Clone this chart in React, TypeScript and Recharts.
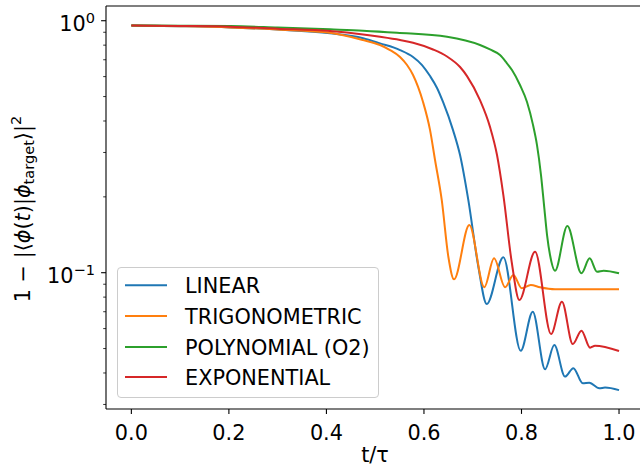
import React from 'react';
import { LineChart, Line, XAxis, YAxis, Legend, ReferenceLine } from 'recharts';

const FONT = 'DejaVu Sans';
const FS = 20.8;

// LINEAR
const linearT = [0, 0.1, 0.2024, 0.3, 0.4074, 0.4751, 0.5099, 0.5509, 0.5776, 0.5961, 0.6125, 0.6268, 0.6391, 0.6596, 0.674, 0.691, 0.7115, 0.7287, 0.7628, 0.7984, 0.8231, 0.8483, 0.8673, 0.8893, 0.9063, 0.9256, 0.9391, 0.9596, 0.9713, 1.0];
const linearV = [0.957, 0.951, 0.941, 0.922, 0.891, 0.852, 0.813, 0.765, 0.718, 0.667, 0.603, 0.541, 0.476, 0.368, 0.293, 0.194, 0.1056, 0.0751, 0.1151, 0.049, 0.07, 0.0414, 0.0516, 0.0387, 0.0418, 0.0364, 0.0366, 0.0348, 0.035, 0.0342];

// TRIGONOMETRIC
const trigT = [0, 0.1, 0.2024, 0.3, 0.4074, 0.4751, 0.5099, 0.5304, 0.5509, 0.5653, 0.5776, 0.5879, 0.5981, 0.6125, 0.6227, 0.6365, 0.65, 0.6617, 0.693, 0.7238, 0.7437, 0.7663, 0.7833, 0.8005, 0.819, 0.838, 0.8688, 1.0];
const trigV = [0.957, 0.951, 0.941, 0.923, 0.896, 0.838, 0.801, 0.765, 0.718, 0.667, 0.609, 0.546, 0.476, 0.368, 0.28, 0.194, 0.1157, 0.0941, 0.1546, 0.0875, 0.114, 0.0875, 0.0979, 0.0867, 0.0894, 0.0875, 0.0859, 0.0859];

// POLYNOMIAL (O2)
const polyT = [0, 0.1, 0.2024, 0.3, 0.4074, 0.4751, 0.5448, 0.6473, 0.7149, 0.7354, 0.7559, 0.7682, 0.7805, 0.7969, 0.8113, 0.8236, 0.8318, 0.84, 0.8462, 0.8524, 0.8585, 0.8688, 0.894, 0.9229, 0.9398, 0.9549, 0.9685, 1.0];
const polyV = [0.957, 0.956, 0.953, 0.94, 0.924, 0.913, 0.896, 0.864, 0.801, 0.769, 0.731, 0.686, 0.637, 0.556, 0.476, 0.386, 0.321, 0.244, 0.1856, 0.1411, 0.1175, 0.1018, 0.1532, 0.0995, 0.114, 0.1009, 0.1018, 0.0995];

// EXPONENTIAL
const expT = [0, 0.1, 0.2024, 0.3, 0.4074, 0.4751, 0.5099, 0.5509, 0.5776, 0.6186, 0.6473, 0.674, 0.6883, 0.7149, 0.7354, 0.7498, 0.7628, 0.7799, 0.7956, 0.8278, 0.8606, 0.8829, 0.9051, 0.9229, 0.9406, 0.9508, 1.0];
const expV = [0.957, 0.953, 0.947, 0.93, 0.91, 0.882, 0.863, 0.838, 0.818, 0.769, 0.721, 0.655, 0.603, 0.484, 0.379, 0.293, 0.2033, 0.1103, 0.0779, 0.1212, 0.0571, 0.0767, 0.0521, 0.0589, 0.0504, 0.0513, 0.0489];

const seriesNames = ['LINEAR', 'TRIGONOMETRIC', 'POLYNOMIAL (O2)', 'EXPONENTIAL'];
const seriesColors = ['#1f77b4', '#ff7f0e', '#2ca02c', '#d62728'];

const xTicks = [0, 0.2, 0.4, 0.6, 0.8, 1.0];
const yMajorTicks = [0.1, 1];
const yMinorTicks = [0.03, 0.04, 0.05, 0.06, 0.07, 0.08, 0.09, 0.2, 0.3, 0.4, 0.5, 0.6, 0.7, 0.8, 0.9];
const yTicks = [...yMinorTicks, ...yMajorTicks].sort((a, b) => a - b);

const xDomain: [number, number] = [-0.052, 1.043];
const yDomain: [number, number] = [0.02878, 1.144];

const zip = (t: number[], v: number[]) => t.map((x, i) => ({ t: x, v: v[i] }));
const seriesData = [zip(linearT, linearV), zip(trigT, trigV), zip(polyT, polyV), zip(expT, expV)];

const YTick = (props: any) => {
  const { x, y, payload } = props;
  const val = payload.value;
  const major = yMajorTicks.some((m) => Math.abs(m - val) < 1e-9);
  const exp = Math.round(Math.log10(val));
  return (
    <g>
      <line x1={x - (major ? 4.9 : 2.8)} x2={x} y1={y} y2={y} stroke="#000" strokeWidth={major ? 1.1 : 0.8} />
      {major && (
        <text x={x - 11} y={y + 10} textAnchor="end" fontFamily={FONT} fontSize={FS} fill="#000">
          <tspan>10</tspan>
          <tspan fontSize={FS * 0.7} dy={-8}>{exp === 0 ? '0' : '\u22121'}</tspan>
        </text>
      )}
    </g>
  );
};

const YLabel = () => (
  <text transform="translate(30,209) rotate(-90)" textAnchor="middle" fontFamily={FONT} fontSize={FS} fill="#000">
    <tspan>1 − |⟨</tspan>
    <tspan fontStyle="italic">ϕ</tspan>
    <tspan>(</tspan>
    <tspan fontStyle="italic">t</tspan>
    <tspan>)|</tspan>
    <tspan fontStyle="italic">ϕ</tspan>
    <tspan fontSize={FS * 0.7} dy={4}>target</tspan>
    <tspan dy={-4}>⟩|</tspan>
    <tspan fontSize={FS * 0.7} dy={-9}>2</tspan>
  </text>
);

const XLabel = () => (
  <text x={375} y={461.5} textAnchor="middle" fontFamily={FONT} fontSize={FS} fill="#000">
    t/τ
  </text>
);

const rowY = [18.3, 49, 80, 110];

const LegendBox = () => (
  <div
    style={{
      boxSizing: 'border-box',
      width: 262,
      height: 131,
      border: '1px solid #cccccc',
      borderRadius: 4,
      background: 'rgba(255,255,255,0.8)',
    }}
  >
    <svg width={260} height={129} style={{ display: 'block' }}>
      {seriesNames.map((n, i) => (
        <g key={n}>
          <line x1={7} x2={49} y1={rowY[i] - 1} y2={rowY[i] - 1} stroke={seriesColors[i]} strokeWidth={2} />
          <text x={67} y={rowY[i] - 1 + 7.5} fontFamily={FONT} fontSize={FS} fill="#000">
            {n}
          </text>
        </g>
      ))}
    </svg>
  </div>
);

export default function App() {
  return (
    <div style={{ position: 'absolute', left: 0, top: 0 }}>
      <LineChart width={640} height={466} margin={{ top: 6, right: 0, bottom: 0, left: 0 }}>
        <XAxis
          dataKey="t"
          type="number"
          domain={xDomain}
          allowDataOverflow
          ticks={xTicks}
          interval={0}
          tickFormatter={(v: number) => v.toFixed(1)}
          height={57}
          tickSize={4.9}
          tickMargin={11}
          axisLine={{ stroke: '#000', strokeWidth: 1.1 }}
          tickLine={{ stroke: '#000', strokeWidth: 1.1 }}
          tick={{ fill: '#000', fontSize: FS, fontFamily: FONT }}
          label={<XLabel />}
        />
        <YAxis
          type="number"
          scale="log"
          domain={yDomain}
          allowDataOverflow
          ticks={yTicks}
          interval={0}
          width={106}
          tickSize={0}
          tickMargin={0}
          tickLine={false}
          axisLine={{ stroke: '#000', strokeWidth: 1.1 }}
          tick={<YTick />}
          label={<YLabel />}
        />
        <ReferenceLine y={yDomain[1]} stroke="#000" strokeWidth={1.1} ifOverflow="visible" />
        {seriesData.map((d, i) => (
          <Line
            key={seriesNames[i]}
            data={d}
            dataKey="v"
            name={seriesNames[i]}
            type="monotone"
            stroke={seriesColors[i]}
            strokeWidth={2}
            dot={false}
            activeDot={false}
            isAnimationActive={false}
          />
        ))}
        <Legend
          layout="horizontal"
          verticalAlign="middle"
          align="center"
          wrapperStyle={{ left: 117, top: 267, width: 262, height: 131 }}
          content={() => <LegendBox />}
        />
      </LineChart>
    </div>
  );
}
